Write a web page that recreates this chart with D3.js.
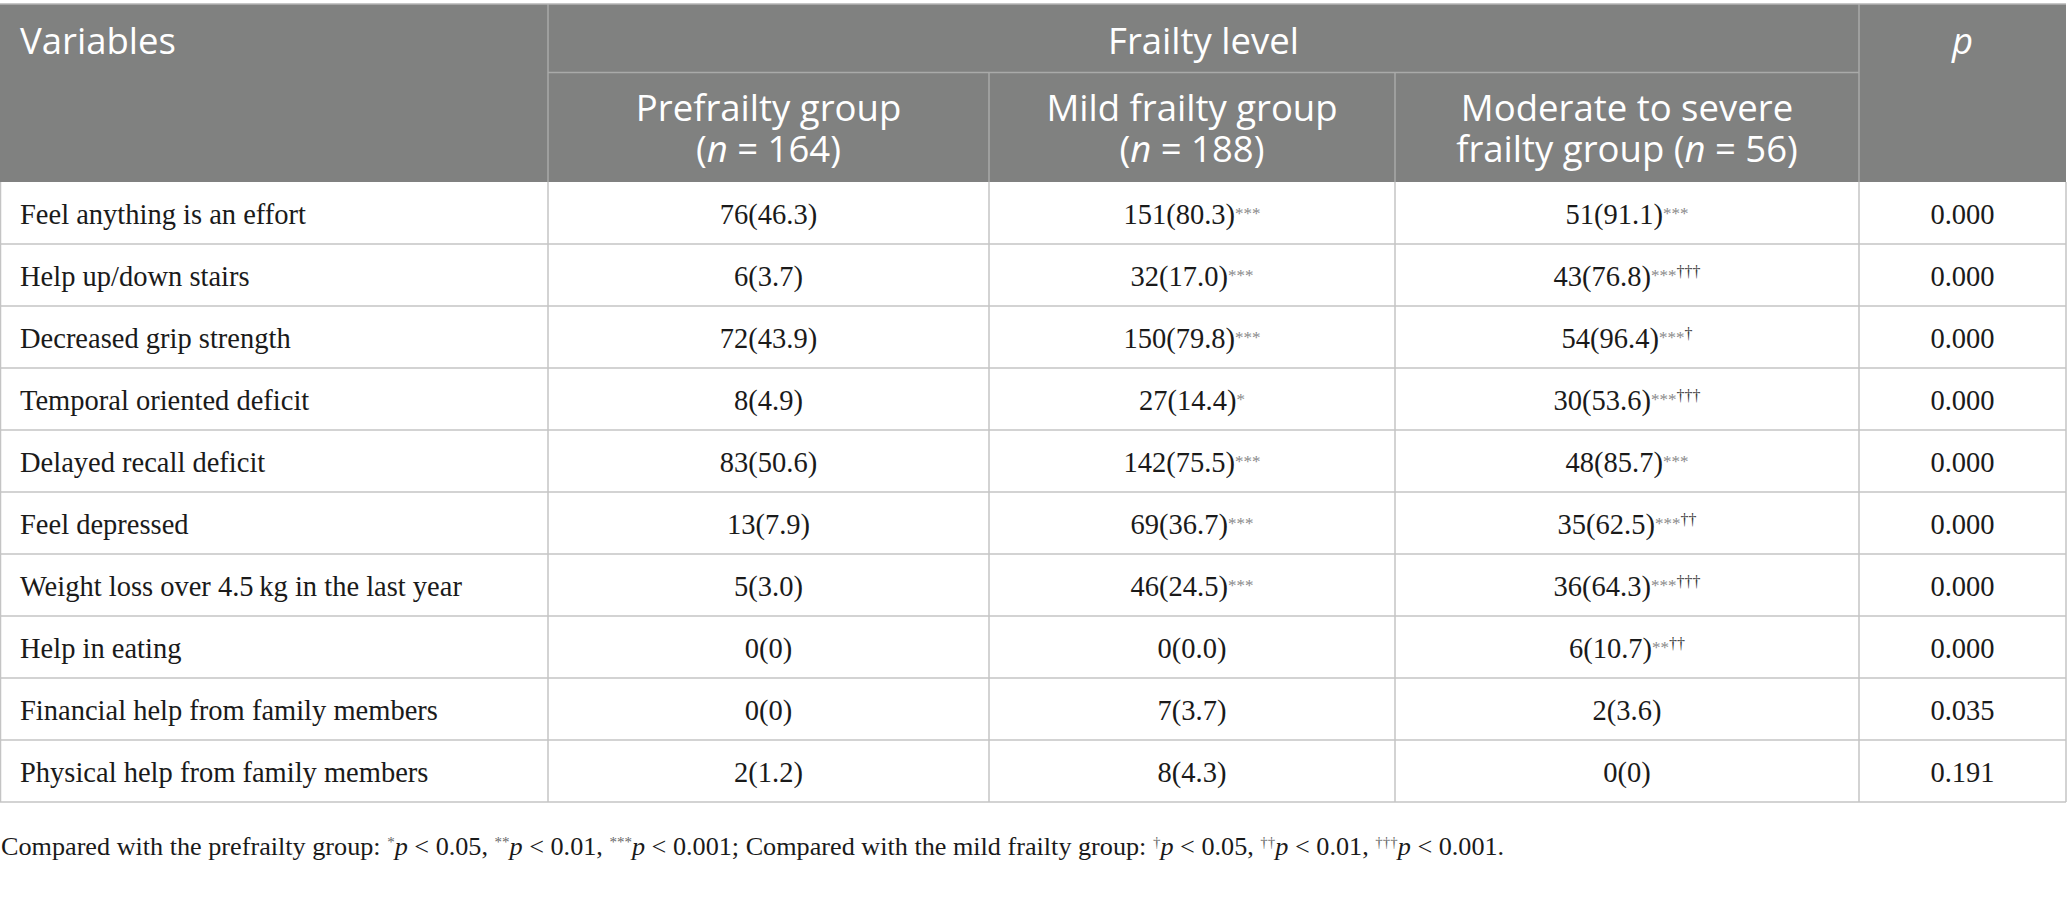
<!DOCTYPE html>
<html>
<head>
<meta charset="utf-8">
<script src="https://cdn.jsdelivr.net/npm/d3@7"></script>
<style>
  body { margin: 0; background: #fff; }
</style>
</head>
<body>
<div id="table"></div>
<script>
// table data
const variables = [
  "Feel anything is an effort",
  "Help up/down stairs",
  "Decreased grip strength",
  "Temporal oriented deficit",
  "Delayed recall deficit",
  "Feel depressed",
  "Weight loss over 4.5\u2009kg in the last year",
  "Help in eating",
  "Financial help from family members",
  "Physical help from family members"
];
const prefCount = [76, 6, 72, 8, 83, 13, 5, 0, 0, 2];
const prefPct = ["46.3", "3.7", "43.9", "4.9", "50.6", "7.9", "3.0", "0", "0", "1.2"];
const mildCount = [151, 32, 150, 27, 142, 69, 46, 0, 7, 8];
const mildPct = ["80.3", "17.0", "79.8", "14.4", "75.5", "36.7", "24.5", "0.0", "3.7", "4.3"];
const mildStar = ["***", "***", "***", "*", "***", "***", "***", "", "", ""];
const modCount = [51, 43, 54, 30, 48, 35, 36, 6, 2, 0];
const modPct = ["91.1", "76.8", "96.4", "53.6", "85.7", "62.5", "64.3", "10.7", "3.6", "0"];
const modStar = ["***", "***", "***", "***", "***", "***", "***", "**", "", ""];
const modDagger = ["", "\u2020\u2020\u2020", "\u2020", "\u2020\u2020\u2020", "", "\u2020\u2020", "\u2020\u2020\u2020", "\u2020\u2020", "", ""];
const pValues = ["0.000", "0.000", "0.000", "0.000", "0.000", "0.000", "0.000", "0.000", "0.035", "0.191"];

const width = 2067, height = 904;
const tableTop = 4, head1 = 72.5, head2 = 182, tableBottom = 802;
const colEdges = [0.5, 548, 989, 1395, 1859, 2066];
const sans = "'Open Sans', 'Noto Sans', sans-serif";
const serif = "'Liberation Serif', 'DejaVu Serif', serif";

const svg = d3.select("#table").append("svg")
  .attr("width", width)
  .attr("height", height);

const y = d3.scaleBand().domain(variables).range([head2, tableBottom]);
const colCenter = d3.scaleOrdinal()
  .domain(["pref", "mild", "mod", "p"])
  .range([1, 2, 3, 4].map(i => (colEdges[i] + colEdges[i + 1]) / 2));

// header background
svg.append("rect")
  .attr("x", 0).attr("y", tableTop)
  .attr("width", colEdges[5]).attr("height", head2 - tableTop)
  .attr("fill", "#808180");

// header lines
const hdrLine = "#a9aaa9";
svg.append("line").attr("x1", colEdges[1]).attr("x2", colEdges[4]).attr("y1", head1).attr("y2", head1)
  .attr("stroke", hdrLine).attr("stroke-width", 1.5);
[colEdges[1], colEdges[4]].forEach(x => {
  svg.append("line").attr("x1", x).attr("x2", x).attr("y1", tableTop).attr("y2", head2)
    .attr("stroke", hdrLine).attr("stroke-width", 1.5);
});
[colEdges[2], colEdges[3]].forEach(x => {
  svg.append("line").attr("x1", x).attr("x2", x).attr("y1", head1).attr("y2", head2)
    .attr("stroke", hdrLine).attr("stroke-width", 1.5);
});
svg.append("line").attr("x1", 0).attr("x2", colEdges[5]).attr("y1", tableTop).attr("y2", tableTop)
  .attr("stroke", "#b5b5b5").attr("stroke-width", 1.5);

// body grid
const grid = svg.append("g").attr("stroke", "#c4c4c4").attr("stroke-width", 1.5);
grid.selectAll("line.h")
  .data(variables)
  .enter().append("line")
  .attr("x1", 0).attr("x2", colEdges[5])
  .attr("y1", d => y(d) + y.bandwidth()).attr("y2", d => y(d) + y.bandwidth());
grid.selectAll("line.v")
  .data(colEdges)
  .enter().append("line")
  .attr("x1", d => d).attr("x2", d => d)
  .attr("y1", head2).attr("y2", tableBottom);

// header text
const hdr = svg.append("g").attr("fill", "#fff").attr("font-family", sans).attr("font-size", 36.5);
hdr.append("text").attr("x", 20).attr("y", 54).text("Variables");
hdr.append("text").attr("x", (colEdges[1] + colEdges[4]) / 2).attr("y", 54)
  .attr("text-anchor", "middle").text("Frailty level");
hdr.append("text").attr("x", colCenter("p")).attr("y", 54)
  .attr("text-anchor", "middle").attr("font-style", "italic").text("p");

const subHeads = [
  {key: "pref", l1: "Prefrailty group", pre: "(", n: "164", post: ")"},
  {key: "mild", l1: "Mild frailty group", pre: "(", n: "188", post: ")"},
  {key: "mod", l1: "Moderate to severe", pre: "frailty group (", n: "56", post: ")"}
];
subHeads.forEach(h => {
  // both lines in one text element
  const t = hdr.append("text").attr("x", colCenter(h.key)).attr("y", 121)
    .attr("text-anchor", "middle");
  t.append("tspan").attr("x", colCenter(h.key)).text(h.l1);
  t.append("tspan").attr("x", colCenter(h.key)).attr("dy", 41).text(h.pre);
  t.append("tspan").attr("font-style", "italic").text("n");
  t.append("tspan").text(" = " + h.n + h.post);
});

// body rows
const body = svg.append("g").attr("font-family", serif).attr("font-size", 28.5).attr("fill", "#1a1a1a");
const rowY = d => y(d) + y.bandwidth() / 2 + 11;

body.selectAll("text.var")
  .data(variables)
  .enter().append("text")
  .attr("x", 20).attr("y", rowY)
  .text(d => d);

function cell(key, counts, pcts, stars, daggers) {
  variables.forEach((v, i) => {
    const t = body.append("text")
      .attr("x", colCenter(key)).attr("y", rowY(v))
      .attr("text-anchor", "middle");
    t.append("tspan").text(counts[i] + "(" + pcts[i] + ")");
    if (stars && stars[i]) {
      t.append("tspan").attr("font-size", 17).attr("fill", "#8a8a8a")
        .attr("dy", -5).text(stars[i]);
    }
    if (daggers && daggers[i]) {
      t.append("tspan").attr("font-size", 16).attr("fill", "#3a3a3a")
        .attr("dy", stars && stars[i] ? -4 : -9).text(daggers[i]);
    }
  });
}
cell("pref", prefCount, prefPct);
cell("mild", mildCount, mildPct, mildStar);
cell("mod", modCount, modPct, modStar, modDagger);

body.selectAll("text.p")
  .data(pValues)
  .enter().append("text")
  .attr("x", colCenter("p"))
  .attr("y", (d, i) => rowY(variables[i]))
  .attr("text-anchor", "middle")
  .text(d => d);

// footnote
const fn = svg.append("text")
  .attr("x", 1).attr("y", 855)
  .attr("font-family", serif).attr("font-size", 26.2).attr("fill", "#1a1a1a");
const parts = [
  ["Compared with the prefrailty group: "], ["*", "sup"], ["p", "i"], [" < 0.05, "],
  ["**", "sup"], ["p", "i"], [" < 0.01, "], ["***", "sup"], ["p", "i"], [" < 0.001; Compared with the mild frailty group: "],
  ["\u2020", "sup"], ["p", "i"], [" < 0.05, "], ["\u2020\u2020", "sup"], ["p", "i"], [" < 0.01, "],
  ["\u2020\u2020\u2020", "sup"], ["p", "i"], [" < 0.001."]
];
parts.forEach(([s, kind]) => {
  const ts = fn.append("tspan").text(s);
  if (kind === "sup") ts.attr("font-size", 15).attr("baseline-shift", "super").attr("fill", "#666");
  if (kind === "i") ts.attr("font-style", "italic");
});
</script>
</body>
</html>
